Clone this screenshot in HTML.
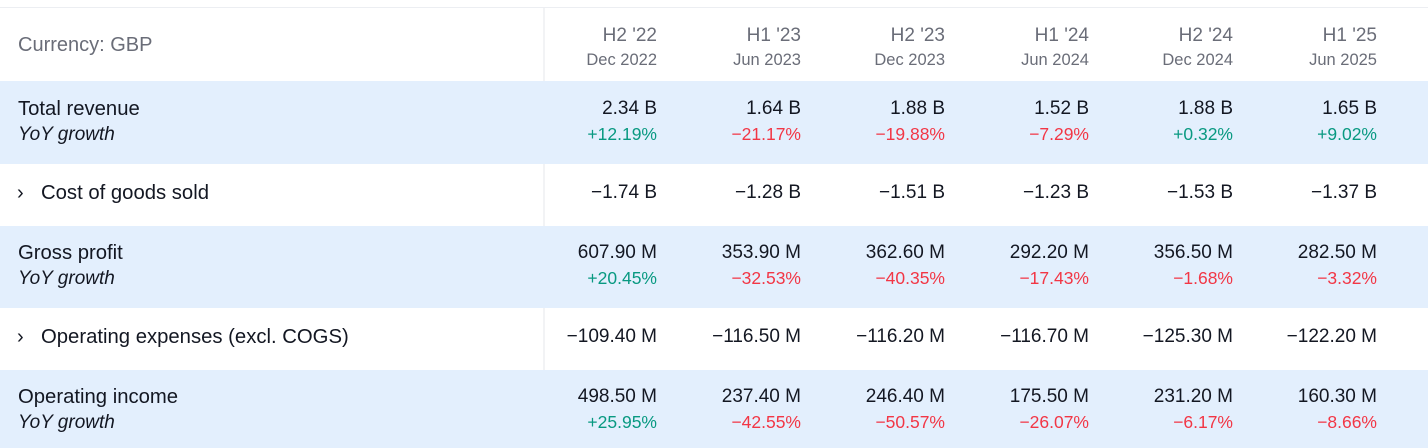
<!DOCTYPE html><html><head><style>
body{margin:0;width:1428px;height:448px;background:#fff;font-family:"Liberation Sans",sans-serif;color:#131722;position:relative;overflow:hidden}
.t{position:absolute;white-space:nowrap;font-size:18.5px}
.r{text-align:right;width:140px}
.band{position:absolute;left:0;width:1428px;background:#e3effd}
.g{color:#089981}.d{color:#f23645}.h{color:#6a6d78}
i{font-style:italic}
</style></head><body>
<div style="position:absolute;left:0;top:7px;width:1428px;height:1px;background:#eceef2"></div>
<div style="position:absolute;left:543px;top:8px;width:2px;height:440px;background:#f2f3f5"></div>
<div class="band" style="top:81px;height:83px"></div>
<div class="band" style="top:226px;height:82px"></div>
<div class="band" style="top:370px;height:78px"></div>
<div class="t h" style="left:18px;top:34px;font-size:20px">Currency: GBP</div>
<div id="c"></div>
<script>
const cols=[657,801,945,1089,1233,1377];
const H=[["H2 '22","Dec 2022"],["H1 '23","Jun 2023"],["H2 '23","Dec 2023"],["H1 '24","Jun 2024"],["H2 '24","Dec 2024"],["H1 '25","Jun 2025"]];
const rows=[
{y:97,l:"Total revenue",v:["2.34 B","1.64 B","1.88 B","1.52 B","1.88 B","1.65 B"],g:["+12.19%","−21.17%","−19.88%","−7.29%","+0.32%","+9.02%"]},
{y:181,c:1,l:"Cost of goods sold",v:["−1.74 B","−1.28 B","−1.51 B","−1.23 B","−1.53 B","−1.37 B"]},
{y:241,l:"Gross profit",v:["607.90 M","353.90 M","362.60 M","292.20 M","356.50 M","282.50 M"],g:["+20.45%","−32.53%","−40.35%","−17.43%","−1.68%","−3.32%"]},
{y:325,c:1,l:"Operating expenses (excl. COGS)",v:["−109.40 M","−116.50 M","−116.20 M","−116.70 M","−125.30 M","−122.20 M"]},
{y:385,l:"Operating income",v:["498.50 M","237.40 M","246.40 M","175.50 M","231.20 M","160.30 M"],g:["+25.95%","−42.55%","−50.57%","−26.07%","−6.17%","−8.66%"]}];
let s="";
cols.forEach((x,i)=>{s+=`<div class="t r h" style="left:${x-140}px;top:25px;font-size:19px">${H[i][0]}</div><div class="t r h" style="left:${x-140}px;top:51px;font-size:16.5px">${H[i][1]}</div>`});
rows.forEach(r=>{
if(r.c)s+=`<div class="t" style="left:17px;top:${r.y+1}px;font-size:20px">›</div>`;
s+=`<div class="t" style="left:${r.c?41:18}px;top:${r.y+1}px;font-size:20.3px">${r.l}</div>`;
if(r.g)s+=`<div class="t" style="left:18px;top:${r.y+27}px;font-size:19px"><i>YoY growth</i></div>`;
cols.forEach((x,i)=>{s+=`<div class="t r" style="left:${x-140}px;top:${r.y+1}px;font-size:19px">${r.v[i]}</div>`;
if(r.g)s+=`<div class="t r ${r.g[i][0]=='+'?'g':'d'}" style="left:${x-140}px;top:${r.y+27}px;font-size:17.5px">${r.g[i]}</div>`;});
});
document.getElementById("c").innerHTML=s;
</script>
</body></html>
